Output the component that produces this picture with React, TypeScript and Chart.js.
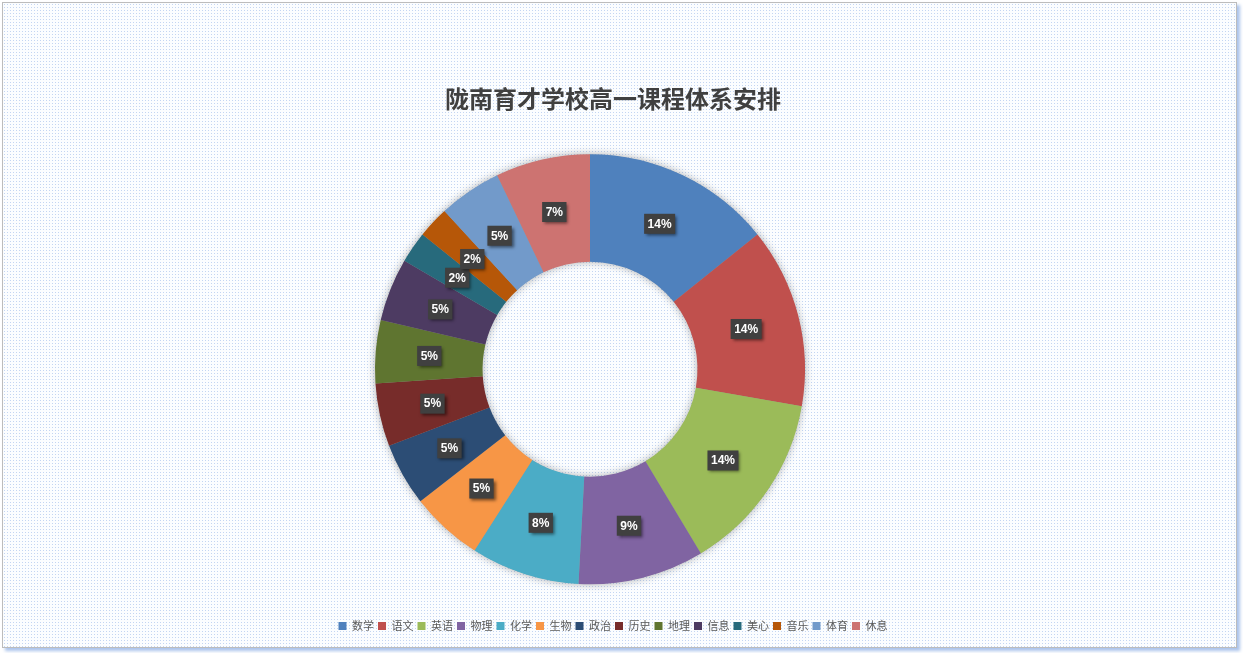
import React, { useEffect, useRef } from "react";
import { Chart, registerables } from "chart.js";

Chart.register(...registerables);

const titleText = "陇南育才学校高一课程体系安排";
const categories = ["数学", "语文", "英语", "物理", "化学", "生物", "政治", "历史", "地理", "信息", "美心", "音乐", "体育", "休息"];
const hours = [6, 5.72, 5.75, 4, 3.45, 2.3, 2, 2, 2, 2, 1, 1, 2, 3];
const colors = ["#4F81BD", "#C0504D", "#9BBB59", "#8064A2", "#4BACC6", "#F79646", "#2C4D75", "#772C2A", "#5F7530", "#4D3B62", "#276A7C", "#B65708", "#729ACA", "#CD7371"];

const W = 1233;
const H = 644;

const shiftPlugin = {
  id: "shiftArea",
  afterLayout(chart: any) {
    chart.chartArea.left -= 23;
    chart.chartArea.right -= 23;
  },
};

const ringShadow = {
  id: "ringShadow",
  beforeDatasetsDraw(chart: any) {
    const meta = chart.getDatasetMeta(0);
    const arc = meta.data[0];
    if (!arc) return;
    const { x, y, innerRadius, outerRadius } = arc.getProps(["x", "y", "innerRadius", "outerRadius"], true);
    const ctx = chart.ctx;
    ctx.save();
    ctx.shadowColor = "rgba(0,0,0,0.35)";
    ctx.shadowBlur = 9;
    ctx.fillStyle = "#9a9a9a";
    ctx.beginPath();
    ctx.arc(x, y, outerRadius - 0.5, 0, Math.PI * 2);
    ctx.arc(x, y, innerRadius + 0.5, 0, Math.PI * 2, true);
    ctx.fill();
    ctx.restore();
  },
};

const boxLabels = {
  id: "boxLabels",
  afterDatasetsDraw(chart: any) {
    const meta = chart.getDatasetMeta(0);
    const data = chart.data.datasets[0].data as number[];
    const total = data.reduce((a, b) => a + b, 0);
    const ctx = chart.ctx;
    meta.data.forEach((arc: any, i: number) => {
      const p = arc.tooltipPosition(true);
      const txt = Math.round((data[i] / total) * 100) + "%";
      ctx.save();
      ctx.font = 'bold 12px "Liberation Sans", "DejaVu Sans", sans-serif';
      const w = ctx.measureText(txt).width + 7;
      const h = 20;
      ctx.shadowColor = "rgba(0,0,0,0.5)";
      ctx.shadowBlur = 3;
      ctx.shadowOffsetX = 2;
      ctx.shadowOffsetY = 2;
      ctx.fillStyle = "#404040";
      ctx.fillRect(p.x - w / 2, p.y - h / 2, w, h);
      ctx.restore();
      ctx.save();
      ctx.font = 'bold 12px "Liberation Sans", "DejaVu Sans", sans-serif';
      ctx.fillStyle = "#ffffff";
      ctx.textAlign = "center";
      ctx.textBaseline = "middle";
      ctx.fillText(txt, p.x, p.y + 0.5);
      ctx.restore();
    });
  },
};

export default function App() {
  const ref = useRef<HTMLCanvasElement | null>(null);

  useEffect(() => {
    if (!ref.current) return;
    const chart = new Chart(ref.current, {
      type: "doughnut",
      data: {
        labels: categories,
        datasets: [
          {
            data: hours,
            backgroundColor: colors,
            borderWidth: 0,
            radius: 215,
            cutout: "50%",
            clip: false,
          } as any,
        ],
      },
      options: {
        responsive: false,
        animation: false,
        layout: { padding: { top: 0, bottom: 5.5, left: 0, right: 13 } },
        plugins: {
          title: {
            display: true,
            text: titleText,
            color: "#404040",
            font: { family: '"Noto Sans CJK SC", sans-serif', size: 24, weight: "bold" },
            padding: { top: 81.6, bottom: 8.6 },
          },
          legend: {
            position: "bottom",
            labels: {
              boxWidth: 8,
              boxHeight: 8,
              padding: 4,
              color: "#595959",
              font: { family: '"Noto Sans CJK SC", sans-serif', size: 11 },
            },
          },
          tooltip: { enabled: false },
        },
      } as any,
      plugins: [shiftPlugin, ringShadow, boxLabels],
    });
    return () => chart.destroy();
  }, []);

  return (
    <div
      style={{
        position: "absolute",
        left: 2,
        top: 2,
        width: W,
        height: H,
        border: "1px solid #bcbcbc",
        backgroundColor: "#fbfdff",
        backgroundImage: "radial-gradient(circle, #c3d5f2 0.75px, transparent 0.9px)",
        backgroundSize: "3px 3px",
        boxShadow: "3px 3px 3px rgba(150,180,230,0.8)",
      }}
    >
      <canvas ref={ref} width={W} height={H} style={{ display: "block" }} />
    </div>
  );
}
